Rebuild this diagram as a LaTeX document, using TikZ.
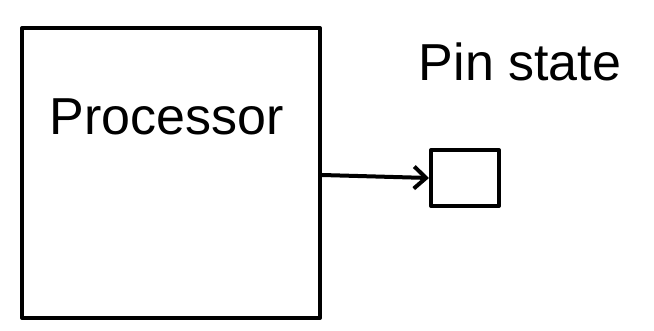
\documentclass[tikz,border=0pt]{standalone}
\usepackage{fontspec}
\setmainfont{Liberation Sans}
\usetikzlibrary{arrows.meta}
\begin{document}
\begin{tikzpicture}[x=1pt,y=-1pt,
  sketch/.style={draw=black, line width=4pt, line cap=round, line join=round},
  lbl/.style={font=\fontsize{52}{56}\selectfont, inner sep=0pt}]
\useasboundingbox[fill=white] (0,0) rectangle (654,331);
\node[sketch, minimum width=298pt, minimum height=290pt, inner sep=0pt] (proc) at (171,173) {};
\node[lbl] (ptext) at (167,117) {Processor};
\node[sketch, minimum width=68pt, minimum height=56pt, inner sep=0pt] (pin) at (465,178) {};
\node[lbl] (ptitle) at (520,62) {Pin state};
\draw[sketch, -{Straight Barb[length=12pt,width=22pt]}] (proc.east |- 0,175) -- (pin.west);
\end{tikzpicture}
\end{document}
